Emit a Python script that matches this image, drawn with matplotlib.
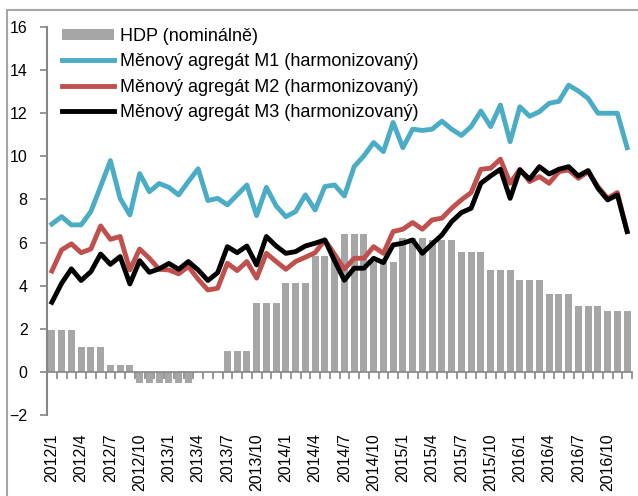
import numpy as np
import matplotlib
matplotlib.use('Agg')
import matplotlib.pyplot as plt
from matplotlib.patches import Rectangle

plt.rcParams['font.family'] = ['Liberation Sans', 'DejaVu Sans']

# categories: monthly 2012/1 .. 2016/12
years = [2012, 2013, 2014, 2015, 2016]
months = [f'{y}/{m}' for y in years for m in range(1, 13)]

# HDP (nominal), quarterly values, shown for each month of the quarter
hdp_q = [1.95, 1.15, 0.32, -0.5,
         -0.5, 0.0, 0.97, 3.19,
         4.11, 5.39, 6.4, 5.12,
         6.2, 6.12, 5.56, 4.73,
         4.27, 3.63, 3.06, 2.81]

m1 = [6.86, 7.2, 6.82, 6.82, 7.44, 8.6, 9.8, 8.05, 7.28, 9.2, 8.36, 8.74,
      8.56, 8.21, 8.83, 9.42, 7.95, 8.05, 7.75, 8.21, 8.67, 7.25, 8.56, 7.7,
      7.2, 7.44, 8.21, 7.51, 8.6, 8.67, 8.16, 9.52, 10.02, 10.64, 10.22, 11.57,
      10.4, 11.26, 11.2, 11.26, 11.63, 11.26, 10.97, 11.38, 12.1, 11.38, 12.38, 10.68,
      12.3, 11.86, 12.07, 12.46, 12.55, 13.3, 13.03, 12.69, 12.0, 12.0, 12.0, 10.4]

m2 = [4.68, 5.66, 5.94, 5.53, 5.7, 6.77, 6.15, 6.28, 4.73, 5.7, 5.27, 4.76,
      4.73, 4.55, 4.89, 4.3, 3.8, 3.88, 5.04, 4.7, 5.12, 4.35, 5.5, 5.12,
      4.76, 5.12, 5.32, 5.53, 6.12, 5.45, 4.77, 5.27, 5.27, 5.81, 5.5, 6.51,
      6.62, 6.93, 6.62, 7.05, 7.13, 7.59, 7.98, 8.32, 9.4, 9.45, 9.87, 8.75,
      9.4, 8.83, 9.06, 8.75, 9.29, 9.37, 8.98, 9.29, 8.6, 8.05, 8.32, 6.51]

m3 = [3.23, 4.11, 4.78, 4.24, 4.65, 5.47, 4.99, 5.35, 4.08, 5.16, 4.62, 4.78,
      5.03, 4.76, 5.12, 4.73, 4.24, 4.6, 5.81, 5.53, 5.84, 4.96, 6.28, 5.84,
      5.5, 5.58, 5.84, 5.97, 6.12, 5.15, 4.25, 4.81, 4.81, 5.27, 5.07, 5.89,
      5.97, 6.12, 5.5, 5.94, 6.35, 6.97, 7.39, 7.59, 8.75, 9.09, 9.4, 8.05,
      9.37, 8.94, 9.52, 9.18, 9.4, 9.52, 9.09, 9.34, 8.52, 7.98, 8.21, 6.51]

labels = ['HDP (nominálně)',
          'Měnový agregát M1 (harmonizovaný)',
          'Měnový agregát M2 (harmonizovaný)',
          'Měnový agregát M3 (harmonizovaný)']

hdp = np.repeat(hdp_q, 3)
x = np.arange(len(months))
gray = '#868686'

fig = plt.figure(figsize=(6.38, 4.96), dpi=100)
ax = fig.add_axes([47/638, 81/496, 585/638, 388/496])

bars = ax.bar(x, hdp, width=0.72, color='#a6a6a6', label=labels[0], zorder=1)
l1, = ax.plot(x, m1, color='#4bacc6', lw=3.5, label=labels[1], zorder=2)
l2, = ax.plot(x, m2, color='#c0504d', lw=3.5, label=labels[2], zorder=3)
l3, = ax.plot(x, m3, color='black', lw=3.5, label=labels[3], zorder=4)

ax.set_xlim(-0.5, len(months) - 0.5)
ax.set_ylim(-2, 16)
ax.set_yticks(np.arange(-2, 17, 2))
ax.tick_params(axis='y', direction='out', length=5, width=1.2, color=gray,
               labelsize=11.5, pad=9)

# category axis sits on zero with small ticks between months
ax.spines['bottom'].set_position(('data', 0))
ax.spines['bottom'].set_color(gray)
ax.spines['bottom'].set_linewidth(1.2)
ax.spines['left'].set_color(gray)
ax.spines['left'].set_linewidth(1.5)
ax.spines['top'].set_visible(False)
ax.spines['right'].set_visible(False)
ax.set_xticks(np.arange(-0.5, len(months), 1))
ax.tick_params(axis='x', direction='out', length=5, width=1.2, color=gray,
               labelbottom=False)

# month labels at the bottom of the plot area
sec = ax.secondary_xaxis('bottom')
sec.set_xticks(x[::3], labels=months[::3], rotation=90)
sec.tick_params(length=0, pad=13, labelsize=11.5)
sec.spines['bottom'].set_visible(False)

ax.legend([bars, l1, l2, l3], labels, loc='upper left',
          bbox_to_anchor=(62/638, 1 - 28/496),
          bbox_transform=fig.transFigure, frameon=False, fontsize=13,
          borderpad=0, borderaxespad=0, handlelength=2.9, handleheight=0.6,
          handletextpad=0.3, labelspacing=0.47)

fig.patches.append(Rectangle((7/638, -0.1), 1.0, 1.1 - 10/496, fill=False,
                             edgecolor='#a6a6a6', lw=1.5,
                             transform=fig.transFigure, figure=fig))

fig.savefig('out.png', dpi=100)
